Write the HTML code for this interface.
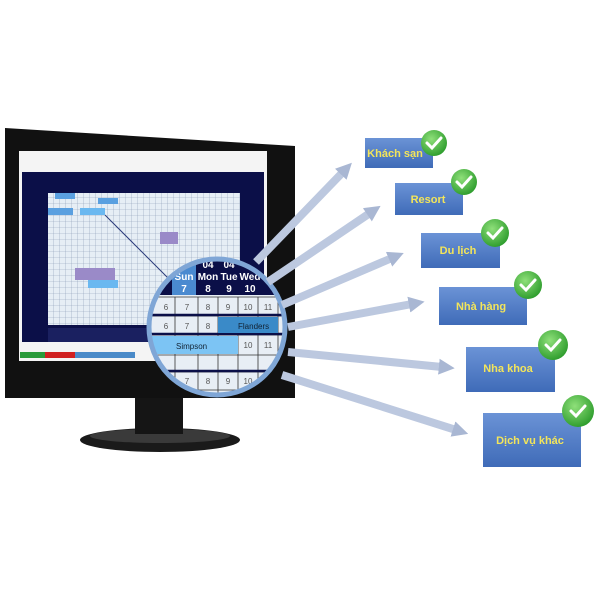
<!DOCTYPE html>
<html><head><style>body{margin:0;background:#fff}svg{display:block}</style></head><body>
<svg width="600" height="600" viewBox="0 0 600 600" xmlns="http://www.w3.org/2000/svg" font-family="Liberation Sans, sans-serif">
<defs>
<linearGradient id="box" x1="0" y1="0" x2="0" y2="1"><stop offset="0" stop-color="#6b93d6"/><stop offset="1" stop-color="#3f6bb8"/></linearGradient>
<radialGradient id="chk" cx="0.4" cy="0.35" r="0.7"><stop offset="0" stop-color="#8fe07a"/><stop offset="1" stop-color="#2a9a2a"/></radialGradient>
<marker id="ah" viewBox="0 0 10 10" refX="2" refY="5" markerWidth="16" markerHeight="16" markerUnits="userSpaceOnUse" orient="auto"><path d="M0 0L10 5L0 10Z" fill="#a9b7d3"/></marker>
<pattern id="grid" width="6" height="6" patternUnits="userSpaceOnUse"><rect width="6" height="6" fill="#e6eef5"/><path d="M6 0V6M0 6H6" stroke="#8a9bb5" stroke-width="0.6"/></pattern>
<clipPath id="lens"><circle cx="217" cy="327" r="68"/></clipPath>
</defs>
<!-- stand -->
<ellipse cx="160" cy="440" rx="80" ry="12" fill="#1a1a1a"/>
<ellipse cx="160" cy="436" rx="70" ry="7" fill="#3a3a3a"/>
<rect x="135" y="392" width="48" height="42" fill="#151515"/>
<!-- monitor -->
<path d="M5 128 L295 146 L295 398 L5 398 Z" fill="#111"/>
<rect x="19" y="151" width="248" height="210" fill="#f4f4f4"/>
<rect x="22" y="172" width="242" height="170" fill="#0b0f48"/>
<rect x="48" y="193" width="192" height="132" fill="url(#grid)"/>
<rect x="48" y="328" width="192" height="14" fill="#1a2060"/>
<rect x="20" y="352" width="25" height="6" fill="#2a9a3a"/>
<rect x="45" y="352" width="30" height="6" fill="#d02020"/>
<rect x="75" y="352" width="60" height="6" fill="#4a8ac8"/>
<rect x="55" y="193" width="20" height="6" fill="#5aa0e0"/>
<rect x="48" y="208" width="25" height="7" fill="#5aa0e0"/>
<rect x="80" y="208" width="25" height="7" fill="#6ab8f0"/>
<rect x="98" y="198" width="20" height="6" fill="#5aa0e0"/>
<rect x="160" y="232" width="18" height="12" fill="#9a8ac8"/>
<rect x="75" y="268" width="40" height="12" fill="#9a8ac8"/>
<rect x="88" y="280" width="30" height="8" fill="#6ab8f0"/>
<line x1="105" y1="215" x2="180" y2="290" stroke="#2a3a7a" stroke-width="1"/>
<!-- lens -->
<g clip-path="url(#lens)">
<rect x="140" y="250" width="160" height="160" fill="#e8eef5"/>
<rect x="140" y="250" width="160" height="45" fill="#0b0f48"/>
<rect x="172" y="255" width="24" height="40" fill="#4a8ad0"/>
<g fill="#fff" font-weight="bold" font-size="10" text-anchor="middle">
<text x="184" y="280">Sun</text><text x="184" y="292">7</text>
<text x="208" y="268">04</text><text x="208" y="280">Mon</text><text x="208" y="292">8</text>
<text x="229" y="268">04</text><text x="229" y="280">Tue</text><text x="229" y="292">9</text>
<text x="250" y="268">04</text><text x="250" y="280">Wed</text><text x="250" y="292">10</text>
</g>
<g stroke="#333" stroke-width="0.8" fill="none">
<path d="M140 297H300M140 316H300M140 335H300M140 355H300M140 372H300M140 390H300"/>
<path d="M175 297V410M198 297V410M218 297V410M238 297V410M258 297V410M278 297V410"/>
</g>
<path d="M140 315H300M140 334H300M140 371H300" stroke="#0b0f48" stroke-width="2.5"/>
<rect x="218" y="317" width="60" height="16" fill="#3a8ac8"/>
<text x="238" y="329" font-size="8" fill="#123">Flanders</text>
<rect x="150" y="336" width="88" height="18" fill="#7cc4f4"/>
<text x="176" y="349" font-size="8" fill="#123">Simpson</text>
<g font-size="8" fill="#555" text-anchor="middle">
<text x="166" y="310">6</text><text x="187" y="310">7</text><text x="208" y="310">8</text><text x="228" y="310">9</text><text x="248" y="310">10</text><text x="268" y="310">11</text>
<text x="166" y="329">6</text><text x="187" y="329">7</text><text x="208" y="329">8</text>
<text x="248" y="348">10</text><text x="268" y="348">11</text>
<text x="166" y="384">6</text><text x="187" y="384">7</text><text x="208" y="384">8</text><text x="228" y="384">9</text><text x="248" y="384">10</text><text x="268" y="384">11</text>
</g>
</g>
<circle cx="217" cy="327" r="68" fill="none" stroke="#7fa6d6" stroke-width="5"/>
<!-- arrows -->
<g stroke="#bcc8df" stroke-width="8" marker-end="url(#ah)">
<line x1="256" y1="262" x2="343" y2="172"/>
<line x1="268" y1="282" x2="370" y2="213"/>
<line x1="282" y1="305" x2="392" y2="258"/>
<line x1="288" y1="327" x2="412" y2="304"/>
<line x1="288" y1="352" x2="442" y2="367"/>
<line x1="282" y1="375" x2="456" y2="430"/>
</g>
<!-- boxes -->
<g font-weight="bold" font-size="11" fill="#f3e55a" text-anchor="middle">
<rect x="365" y="138" width="68" height="30" fill="url(#box)"/><text x="395" y="157">Khách sạn</text>
<rect x="395" y="183" width="68" height="32" fill="url(#box)"/><text x="428" y="203">Resort</text>
<rect x="421" y="233" width="79" height="35" fill="url(#box)"/><text x="458" y="254">Du lịch</text>
<rect x="439" y="287" width="88" height="38" fill="url(#box)"/><text x="481" y="310">Nhà hàng</text>
<rect x="466" y="347" width="89" height="45" fill="url(#box)"/><text x="508" y="372">Nha khoa</text>
<rect x="483" y="413" width="98" height="54" fill="url(#box)"/><text x="530" y="444">Dịch vụ khác</text>
</g>
<g stroke="#fff" stroke-width="3" fill="none" stroke-linecap="round">
<circle cx="434" cy="143" r="13" fill="url(#chk)" stroke="none"/><path d="M427 143l5 5l9-10"/>
<circle cx="464" cy="182" r="13" fill="url(#chk)" stroke="none"/><path d="M457 182l5 5l9-10"/>
<circle cx="495" cy="233" r="14" fill="url(#chk)" stroke="none"/><path d="M488 233l5 5l9-10"/>
<circle cx="528" cy="285" r="14" fill="url(#chk)" stroke="none"/><path d="M521 285l5 5l9-10"/>
<circle cx="553" cy="345" r="15" fill="url(#chk)" stroke="none"/><path d="M546 345l5 5l9-10"/>
<circle cx="578" cy="411" r="16" fill="url(#chk)" stroke="none"/><path d="M571 411l5 5l9-10"/>
</g>
</svg>
</body></html>
